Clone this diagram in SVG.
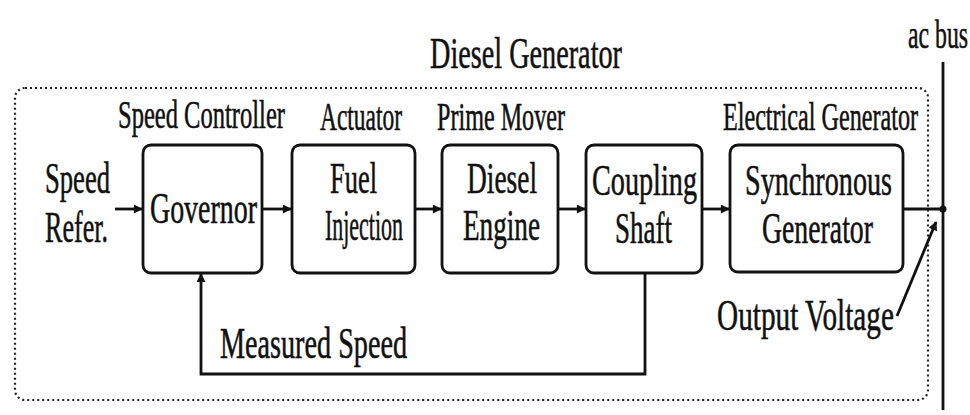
<svg xmlns="http://www.w3.org/2000/svg" width="970" height="415" viewBox="0 0 970 415">
<style>
text{font-family:"Liberation Serif","Times New Roman",serif;fill:#111;stroke:#111;stroke-width:0.35;}
.big{font-size:27.5px;}
.sm{font-size:24.5px;}
.box{fill:#fff;stroke:#111;stroke-width:2.8;}
.ln{fill:none;stroke:#111;stroke-width:2.8;}
.dot{fill:none;stroke:#222;stroke-width:2.2;stroke-dasharray:2 3;}
</style>
<defs>
<marker id="ah" viewBox="0 0 10 10" refX="9" refY="5" markerWidth="10" markerHeight="9" markerUnits="userSpaceOnUse" orient="auto">
<path d="M0,0 L10,5 L0,10 z" fill="#111"/>
</marker>
</defs>
<rect x="15" y="88" width="913" height="312" rx="10" class="dot"/>
<g id="title" transform="scale(1,1.6)">
<text x="430" y="42.5" class="big" textLength="192" lengthAdjust="spacingAndGlyphs">Diesel Generator</text>
</g>
<g id="acbus">
<g transform="scale(1,1.6)"><text x="908" y="30" class="sm" textLength="60" lengthAdjust="spacingAndGlyphs">ac bus</text></g>
<line x1="943" y1="62" x2="943" y2="410" class="ln"/>
<circle cx="943" cy="209" r="3.5" fill="#111"/>
</g>
<g id="speedref" transform="scale(1,1.6)">
<text x="45" y="120.6" class="big" textLength="65" lengthAdjust="spacingAndGlyphs">Speed</text>
<text x="45" y="151.25" class="big" textLength="63" lengthAdjust="spacingAndGlyphs">Refer.</text>
</g>
<g id="governor">
<rect x="143" y="145" width="119" height="128" rx="8" class="box"/>
<g transform="scale(1,1.6)">
<text x="118" y="80" class="sm" textLength="167" lengthAdjust="spacingAndGlyphs">Speed Controller</text>
<text x="150" y="139.4" class="big" textLength="107" lengthAdjust="spacingAndGlyphs">Governor</text>
</g>
</g>
<g id="fuel">
<rect x="292" y="145" width="123" height="128" rx="8" class="box"/>
<g transform="scale(1,1.6)">
<text x="320" y="81.25" class="sm" textLength="82" lengthAdjust="spacingAndGlyphs">Actuator</text>
<text x="330" y="120.6" class="big" textLength="47" lengthAdjust="spacingAndGlyphs">Fuel</text>
<text x="325" y="150" class="big" textLength="78" lengthAdjust="spacingAndGlyphs">Injection</text>
</g>
</g>
<g id="engine">
<rect x="442" y="145" width="116" height="128" rx="8" class="box"/>
<g transform="scale(1,1.6)">
<text x="437" y="81.25" class="sm" textLength="128" lengthAdjust="spacingAndGlyphs">Prime Mover</text>
<text x="467" y="120.6" class="big" textLength="70" lengthAdjust="spacingAndGlyphs">Diesel</text>
<text x="463" y="150" class="big" textLength="77" lengthAdjust="spacingAndGlyphs">Engine</text>
</g>
</g>
<g id="shaft">
<rect x="586" y="145" width="116" height="128" rx="8" class="box"/>
<g transform="scale(1,1.6)">
<text x="592" y="121.9" class="big" textLength="105" lengthAdjust="spacingAndGlyphs">Coupling</text>
<text x="615" y="151.9" class="big" textLength="57" lengthAdjust="spacingAndGlyphs">Shaft</text>
</g>
</g>
<g id="generator">
<rect x="730" y="145" width="173" height="127" rx="8" class="box"/>
<g transform="scale(1,1.6)">
<text x="723" y="81.25" class="sm" textLength="195" lengthAdjust="spacingAndGlyphs">Electrical Generator</text>
<text x="745" y="121.9" class="big" textLength="147" lengthAdjust="spacingAndGlyphs">Synchronous</text>
<text x="762" y="151.9" class="big" textLength="111" lengthAdjust="spacingAndGlyphs">Generator</text>
</g>
</g>
<g id="labels" transform="scale(1,1.6)">
<text x="220" y="223.75" class="big" textLength="187" lengthAdjust="spacingAndGlyphs">Measured Speed</text>
<text x="717" y="206.25" class="big" textLength="177" lengthAdjust="spacingAndGlyphs">Output Voltage</text>
</g>
<g id="connectors">
<line x1="115" y1="209" x2="142" y2="209" class="ln" marker-end="url(#ah)"/>
<line x1="262" y1="209" x2="291" y2="209" class="ln" marker-end="url(#ah)"/>
<line x1="415" y1="209" x2="441" y2="209" class="ln" marker-end="url(#ah)"/>
<line x1="558" y1="209" x2="585" y2="209" class="ln" marker-end="url(#ah)"/>
<line x1="702" y1="209" x2="729" y2="209" class="ln" marker-end="url(#ah)"/>
<line x1="903" y1="209" x2="943" y2="209" class="ln"/>
<polyline points="645,273 645,374 201,374 201,274" class="ln" marker-end="url(#ah)"/>
<line x1="897" y1="316" x2="936" y2="222" class="ln" stroke-width="2.2" marker-end="url(#ah)"/>
</g>
</svg>
